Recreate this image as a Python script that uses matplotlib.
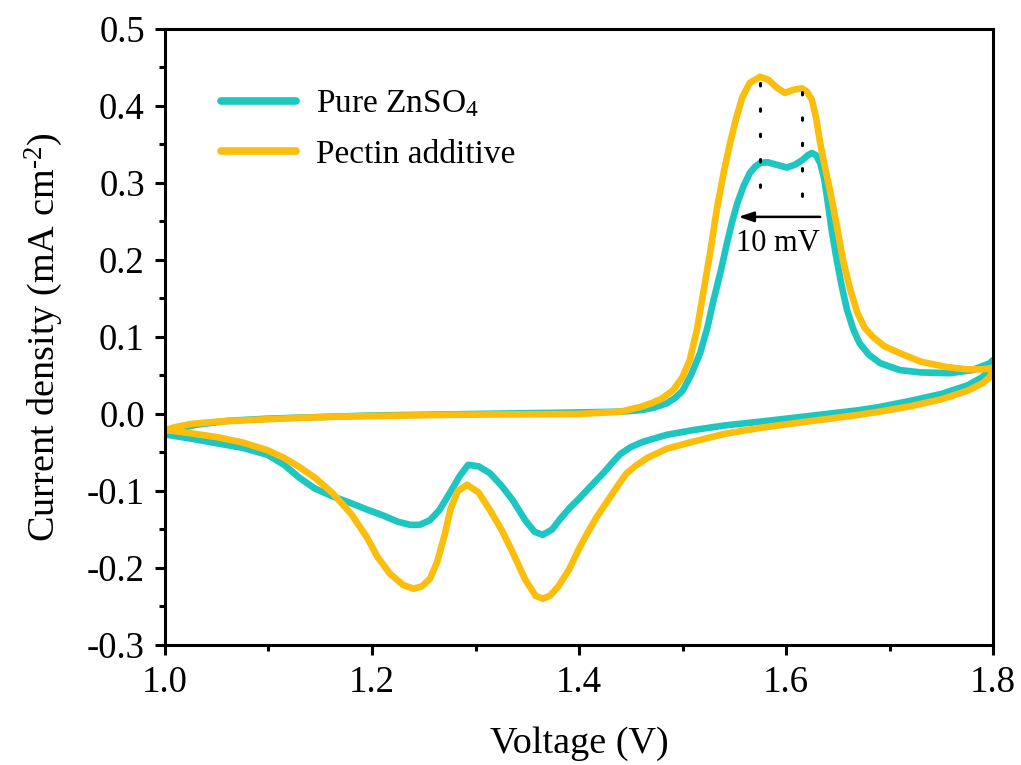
import matplotlib
matplotlib.use("Agg")
import matplotlib.pyplot as plt
from matplotlib.ticker import MultipleLocator, FormatStrFormatter

plt.rcParams['font.family'] = ['Liberation Serif', 'DejaVu Serif']
plt.rcParams['mathtext.fontset'] = 'custom'
plt.rcParams['mathtext.rm'] = 'Liberation Serif'
plt.rcParams['mathtext.it'] = 'Liberation Serif:italic'
plt.rcParams['axes.unicode_minus'] = False

# ---- data: Pure ZnSO4 (forward scan, then reverse scan) ----
zn_fwd_v = [1.000, 1.010, 1.030, 1.060, 1.100, 1.150, 1.200, 1.300, 1.400, 1.440,
            1.460, 1.472, 1.485, 1.493, 1.500, 1.508, 1.517, 1.524, 1.530, 1.537,
            1.543, 1.548, 1.553, 1.559, 1.565, 1.570, 1.575, 1.582, 1.590, 1.601,
            1.609, 1.616, 1.621, 1.625, 1.629, 1.633, 1.637, 1.640, 1.644, 1.649,
            1.654, 1.659, 1.665, 1.671, 1.680, 1.691, 1.710, 1.730, 1.758, 1.780,
            1.797, 1.800]
zn_fwd_i = [-0.025, -0.020, -0.014, -0.009, -0.006, -0.004, -0.002, 0.000, 0.002, 0.003,
            0.005, 0.008, 0.014, 0.021, 0.030, 0.050, 0.079, 0.112, 0.148, 0.186,
            0.222, 0.250, 0.274, 0.296, 0.313, 0.321, 0.326, 0.327, 0.324, 0.320,
            0.324, 0.330, 0.336, 0.339, 0.336, 0.326, 0.305, 0.278, 0.240, 0.200,
            0.165, 0.135, 0.110, 0.092, 0.077, 0.066, 0.057, 0.054, 0.053, 0.057,
            0.066, 0.070]
zn_rev_v = [1.800, 1.797, 1.790, 1.775, 1.750, 1.720, 1.690, 1.671, 1.620, 1.575,
            1.540, 1.510, 1.485, 1.462, 1.450, 1.440, 1.433, 1.424, 1.414, 1.400,
            1.391, 1.382, 1.374, 1.365, 1.357, 1.348, 1.336, 1.325, 1.314, 1.303,
            1.293, 1.285, 1.275, 1.265, 1.256, 1.246, 1.237, 1.225, 1.211, 1.195,
            1.180, 1.162, 1.145, 1.130, 1.115, 1.099, 1.075, 1.050, 1.025, 1.002]
zn_rev_i = [0.070, 0.058, 0.048, 0.037, 0.026, 0.017, 0.009, 0.005, -0.003, -0.010,
            -0.015, -0.021, -0.027, -0.036, -0.043, -0.052, -0.062, -0.076, -0.090, -0.110,
            -0.122, -0.136, -0.150, -0.157, -0.153, -0.138, -0.112, -0.093, -0.077, -0.068,
            -0.066, -0.080, -0.103, -0.125, -0.138, -0.144, -0.144, -0.140, -0.132, -0.124,
            -0.116, -0.107, -0.097, -0.083, -0.066, -0.053, -0.044, -0.038, -0.032, -0.027]

# ---- data: Pectin additive ----
pe_fwd_v = [1.000, 1.010, 1.025, 1.050, 1.080, 1.130, 1.180, 1.280, 1.400, 1.440,
            1.459, 1.470, 1.480, 1.491, 1.500, 1.507, 1.514, 1.520, 1.527, 1.533,
            1.540, 1.546, 1.552, 1.558, 1.565, 1.575, 1.583, 1.591, 1.599, 1.607,
            1.615, 1.620, 1.625, 1.629, 1.633, 1.638, 1.643, 1.649, 1.655, 1.662,
            1.669, 1.676, 1.684, 1.695, 1.710, 1.730, 1.755, 1.775, 1.790, 1.800]
pe_fwd_i = [-0.021, -0.017, -0.013, -0.010, -0.008, -0.005, -0.003, -0.001, 0.000, 0.003,
            0.009, 0.014, 0.020, 0.031, 0.048, 0.070, 0.110, 0.157, 0.212, 0.265,
            0.315, 0.352, 0.385, 0.412, 0.430, 0.438, 0.434, 0.424, 0.417, 0.421,
            0.423, 0.419, 0.408, 0.385, 0.352, 0.318, 0.287, 0.245, 0.200, 0.162,
            0.131, 0.112, 0.100, 0.088, 0.079, 0.068, 0.061, 0.058, 0.058, 0.060]
pe_rev_v = [1.800, 1.797, 1.790, 1.775, 1.750, 1.720, 1.690, 1.671, 1.620, 1.575,
            1.540, 1.510, 1.485, 1.466, 1.455, 1.446, 1.438, 1.430, 1.417, 1.408,
            1.400, 1.390, 1.380, 1.372, 1.365, 1.358, 1.348, 1.336, 1.325, 1.314,
            1.303, 1.292, 1.283, 1.276, 1.270, 1.263, 1.256, 1.248, 1.240, 1.230,
            1.217, 1.205, 1.195, 1.180, 1.162, 1.145, 1.130, 1.115, 1.099, 1.075,
            1.050, 1.025, 1.002]
pe_rev_i = [0.060, 0.048, 0.040, 0.030, 0.019, 0.010, 0.003, -0.001, -0.010, -0.018,
            -0.026, -0.036, -0.045, -0.057, -0.067, -0.077, -0.092, -0.108, -0.134, -0.155,
            -0.175, -0.203, -0.224, -0.236, -0.240, -0.236, -0.215, -0.180, -0.150, -0.125,
            -0.102, -0.092, -0.100, -0.123, -0.158, -0.192, -0.214, -0.224, -0.227, -0.222,
            -0.207, -0.185, -0.160, -0.130, -0.103, -0.083, -0.069, -0.057, -0.047, -0.037,
            -0.030, -0.025, -0.021]

series_labels = ['Pure ZnSO$_{4}$', 'Pectin additive']
series_colors = ['#1DC6C1', '#FBBE0C']

# annotation values
peak_lines_v = [1.575, 1.615]
peak_lines_top = [0.430, 0.418]
peak_lines_bottom = [0.282, 0.274]
arrow_from = (1.633, 0.256)
arrow_to = (1.554, 0.256)
shift_text = '10 mV'
shift_text_pos = (1.592, 0.221)

fig = plt.figure(figsize=(10.21, 7.65), dpi=100)
ax = fig.add_axes([0.1616, 0.1569, 0.8110, 0.8052])

ax.plot(zn_fwd_v + zn_rev_v, zn_fwd_i + zn_rev_i, color=series_colors[0], lw=4.8,
        label=series_labels[0], solid_capstyle='round', solid_joinstyle='round')
ax.plot(pe_fwd_v + pe_rev_v, pe_fwd_i + pe_rev_i, color=series_colors[1], lw=4.8,
        label=series_labels[1], solid_capstyle='round', solid_joinstyle='round')

for v, t, b in zip(peak_lines_v, peak_lines_top, peak_lines_bottom):
    ax.plot([v, v], [t, b], color='black', lw=2.2, linestyle=(0, (0.8, 7.5)),
            dash_capstyle='round')

ax.annotate('', xy=arrow_to, xytext=arrow_from,
            arrowprops=dict(arrowstyle='-|>,head_length=0.9,head_width=0.3',
                            color='black', lw=1.8, shrinkA=0, shrinkB=0))
ax.text(shift_text_pos[0], shift_text_pos[1], shift_text, fontsize=22,
        ha='center', va='center')

ax.set_xlim(1.0, 1.8)
ax.set_ylim(-0.3, 0.5)
ax.xaxis.set_major_locator(MultipleLocator(0.2))
ax.xaxis.set_minor_locator(MultipleLocator(0.1))
ax.yaxis.set_major_locator(MultipleLocator(0.1))
ax.yaxis.set_minor_locator(MultipleLocator(0.05))
ax.xaxis.set_major_formatter(FormatStrFormatter('%.1f'))
ax.yaxis.set_major_formatter(FormatStrFormatter('%.1f'))

for s in ax.spines.values():
    s.set_linewidth(2.2)
ax.tick_params(which='both', direction='out', width=2.2, labelsize=26.5,
               top=False, right=False)
ax.tick_params(which='major', length=7.5, pad=7)
ax.tick_params(which='minor', length=4)

ax.set_xlabel('Voltage (V)', fontsize=27.5, labelpad=19)
ax.set_ylabel(r'Current density (mA cm$^{\text{-}2}$)', fontsize=27.5, labelpad=16)

leg = ax.legend(loc='upper left', bbox_to_anchor=(0.051, 0.925), frameon=False,
                fontsize=24, handlelength=2.25, handletextpad=0.6, labelspacing=0.6,
                borderaxespad=0)
for line in leg.get_lines():
    line.set_linewidth(5.5)
    line.set_solid_capstyle('round')

fig.savefig('out.png', dpi=100)
